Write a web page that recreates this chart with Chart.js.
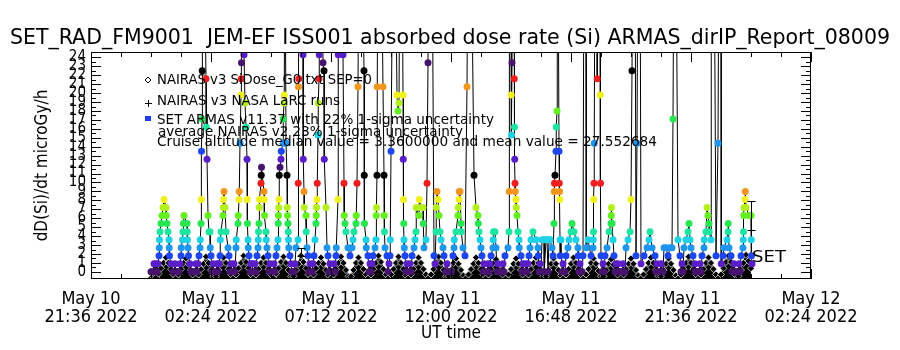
<!DOCTYPE html>
<html>
<head>
<meta charset="utf-8">
<script src="https://cdn.jsdelivr.net/npm/chart.js@4.4.0/dist/chart.umd.min.js"></script>
<style>
    html, body { margin: 0; padding: 0; background: #fff; }
    #grafico { display: block; }
</style>
</head>
<body>
<canvas id="grafico" width="900" height="350"></canvas>
<script>
// Etiquetas del eje de tiempo (horas UT contadas desde 2022-05-11 00:00)
const tickDia = ['May 10', 'May 11', 'May 11', 'May 11', 'May 11', 'May 11', 'May 12'];
const tickHora = ['21:36 2022', '02:24 2022', '07:12 2022', '12:00 2022', '16:48 2022', '21:36 2022', '02:24 2022'];

// NAIRAS v3: muestras cada 0.1 h desde las 00:00
const nairasInicio = 0.0;
const nairasPaso = 0.1;
const nairasDosis = [
    -0.7, -0.7, -0.6, -0.2, 0.4, 1.0, 1.6,
    1.0, 0.3, -0.3, -0.7, -0.3, 0.3, 1.0, 1.5,
    0.9, 0.2, -0.4, -0.7, -0.3, 0.3, 0.9, 1.7,
    1.0, 0.2, -0.5, -0.5, 0.2, 0.9, 1.6,
    1.0, 0.3, -0.3, -0.7, -0.3, 0.4, 1.0, 1.8,
    1.1, 0.4, -0.3, -0.7, -0.3, 0.3, 1.0, 1.6,
    1.0, 0.3, -0.3, -0.7, -0.2, 0.4, 1.1, 1.7,
    1.0, 0.2, -0.5, -0.5, 0.2, 0.9, 1.8,
    1.1, 0.4, -0.3, -0.7, -0.3, 0.4, 1.0, 1.6,
    0.9, 0.2, -0.4, -0.7, -0.3, 0.3, 1.0, 1.7,
    1.0, 0.2, -0.5, -0.5, 0.2, 1.0, 1.6,
    1.0, 0.3, -0.3, -0.7, -0.3, 0.3, 1.0, 1.8,
    1.1, 0.3, -0.3, -0.7, -0.3, 0.3, 1.0, 1.7,
    1.0, 0.3, -0.4, -0.7, -0.3, 0.3, 1.0, 1.6,
    1.0, 0.3, -0.3, -0.7, -0.3, 0.3, 1.0, 1.7,
    1.0, 0.2, -0.5, -0.5, 0.2, 1.0, 1.5,
    0.9, 0.2, -0.4, -0.7, -0.3, 0.3, 0.9, 1.6,
    1.0, 0.3, -0.3, -0.7, -0.3, 0.3, 1.0, 1.4,
    0.8, 0.2, -0.4, -0.7, -0.3, 0.3, 0.9, 1.5,
    0.9, 0.2, -0.4, -0.7, -0.3, 0.3, 1.0, 1.6,
    1.0, 0.2, -0.5, -0.5, 0.2, 0.9, 1.5,
    0.9, 0.2, -0.4, -0.7, -0.3, 0.3, 0.9, 1.6,
    1.0, 0.3, -0.3, -0.7, -0.3, 0.3, 1.0, 1.5,
    0.9, 0.1, -0.5, -0.5, 0.2, 0.9, 1.4,
    0.8, 0.2, -0.4, -0.7, -0.3, 0.3, 0.9, 1.5,
    0.9, 0.2, -0.4, -0.7, -0.3, 0.3, 1.0, 1.6,
    1.0, 0.2, -0.5, -0.5, 0.2, 0.9, 1.5,
    0.9, 0.2, -0.4, -0.7, -0.3, 0.3, 1.0, 1.7,
    1.0, 0.3, -0.3, -0.7, -0.3, 0.3, 1.0, 1.6,
    1.0, 0.3, -0.3, -0.7, -0.3, 0.4, 1.1, 1.8,
    1.1, 0.3, -0.4, -0.5, 0.2, 1.0, 1.9,
    1.2, 0.4
];

// SET ARMAS: tiempo (h UT desde 00:00 del 11 de mayo) y dosis, pasadas con picos
const armasTiempo = [
    0.00, 0.12, 0.24, 0.28, 0.32, 0.33, 0.34, 0.36, 0.40, 0.44, 0.48, 0.52, 0.60, 0.61, 0.64, 0.68, 0.72, 0.73, 0.74, 0.80, 0.88,
    1.04, 1.16, 1.20, 1.21, 1.26, 1.28, 1.30, 1.32, 1.44, 1.45, 1.46, 1.48, 1.50, 1.56, 1.64,
    1.72, 1.80, 1.92, 1.96, 1.97, 2.00, 2.01, 2.02, 2.04, 2.05, 2.06, 2.12, 2.20, 2.21, 2.24, 2.28, 2.32, 2.36, 2.37, 2.40, 2.48, 2.56,
    2.64, 2.76, 2.77, 2.80, 2.88, 2.89, 2.90, 2.92, 2.96, 3.00, 3.08, 3.12, 3.20, 3.28,
    3.32, 3.40, 3.41, 3.48, 3.49, 3.52, 3.53, 3.56, 3.60, 3.61, 3.62, 3.64, 3.72, 3.76, 3.80, 3.84, 3.85, 3.86, 3.88, 3.89, 3.92, 4.00, 4.08,
    4.16, 4.24, 4.28, 4.29, 4.30, 4.32, 4.33, 4.34, 4.40, 4.41, 4.42, 4.52, 4.53, 4.54, 4.60, 4.61, 4.64, 4.68, 4.76, 4.84,
    4.92, 5.00, 5.04, 5.08, 5.09, 5.10, 5.11, 5.12, 5.13, 5.16, 5.20, 5.21, 5.28, 5.29, 5.32, 5.33, 5.36, 5.40, 5.44, 5.45, 5.46, 5.48, 5.49, 5.50, 5.51, 5.56, 5.60, 5.68,
    5.76, 5.80, 5.88, 5.89, 5.90, 5.91, 5.92, 6.00, 6.08, 6.09, 6.12, 6.13, 6.20, 6.21, 6.24, 6.28, 6.36, 6.44,
    6.48, 6.52, 6.56, 6.60, 6.61, 6.62, 6.64, 6.65, 6.68, 6.69, 6.72, 6.73, 6.76, 6.84, 6.88, 6.92, 6.93, 7.00, 7.04, 7.08, 7.16, 7.24,
    7.32, 7.40, 7.41, 7.48, 7.49, 7.52, 7.64, 7.68, 7.72, 7.73, 7.76, 7.80, 7.88, 7.96,
    8.04, 8.08, 8.12, 8.20, 8.21, 8.24, 8.28, 8.32, 8.44, 8.52, 8.53, 8.54, 8.60, 8.61, 8.68, 8.76,
    8.88, 8.96, 9.00, 9.01, 9.02, 9.04, 9.05, 9.08, 9.20, 9.28, 9.32, 9.33, 9.34, 9.36, 9.44, 9.52,
    9.56, 9.57, 9.60, 9.68, 9.76, 9.84, 9.88, 9.92, 9.96, 10.04, 10.08, 10.09, 10.10, 10.11, 10.12, 10.13, 10.16, 10.24, 10.28,
    10.36, 10.44, 10.52, 10.56, 10.60, 10.61, 10.72, 10.73, 10.80, 10.88, 10.89, 10.92, 11.00, 11.04, 11.08, 11.12, 11.24, 11.32,
    11.36, 11.40, 11.41, 11.44, 11.48, 11.52, 11.56, 11.60, 11.68, 11.72, 11.84, 11.96, 12.08, 12.12, 12.13, 12.20, 12.28, 12.29, 12.32, 12.33, 12.36, 12.40, 12.41, 12.48, 12.56, 12.64, 12.68, 12.80,
    12.92, 13.00, 13.08, 13.09, 13.12, 13.16, 13.20, 13.24, 13.32, 13.40,
    13.48, 13.60, 13.68, 13.69, 13.70, 13.76, 13.80, 13.88, 14.00,
    14.08, 14.16, 14.28, 14.32, 14.33, 14.34, 14.40, 14.41, 14.42, 14.44, 14.48, 14.52, 14.53, 14.54, 14.55, 14.56, 14.57, 14.60, 14.61, 14.64, 14.68, 14.72, 14.73, 14.80, 14.88,
    15.00, 15.12, 15.16, 15.20, 15.28, 15.40, 15.48, 15.49, 15.56, 15.64, 15.72, 15.73, 15.80, 15.84, 15.88, 15.92, 15.96, 16.04, 16.08,
    16.12, 16.13, 16.14, 16.16, 16.20, 16.21, 16.24, 16.25, 16.28, 16.32, 16.33, 16.34, 16.35, 16.36, 16.37, 16.40, 16.48,
    16.60, 16.68, 16.72, 16.80, 16.84, 16.92, 17.00, 17.08, 17.09, 17.16,
    17.28, 17.32, 17.40, 17.41, 17.48, 17.60, 17.68, 17.69, 17.70, 17.71, 17.72, 17.73, 17.76, 17.84, 17.85, 17.88, 17.96, 17.97, 17.98, 18.00, 18.08,
    18.16, 18.24, 18.32, 18.40, 18.41, 18.42, 18.44, 18.48, 18.52, 18.60, 18.76,
    18.88, 19.00, 19.08, 19.16, 19.20, 19.24, 19.28, 19.36, 19.40, 19.44, 19.48, 19.56, 19.60,
    19.72, 19.84, 19.92, 19.96, 20.04, 20.16, 20.24, 20.32,
    20.40, 20.52, 20.60, 20.68, 20.76, 20.84, 20.88, 20.92, 21.00, 21.08, 21.16,
    21.32, 21.40, 21.48, 21.52, 21.56, 21.60, 21.68, 21.76, 21.88,
    21.96, 22.04, 22.12, 22.13, 22.20, 22.24, 22.28, 22.32, 22.33, 22.40, 22.41, 22.52, 22.60, 22.68, 22.72, 22.80, 22.81,
    22.88, 22.92, 23.04, 23.08, 23.09, 23.12, 23.20, 23.32, 23.44,
    23.52, 23.60, 23.68, 23.69, 23.70, 23.71, 23.72, 23.76, 23.77, 23.80, 23.92, 24.00, 24.01, 24.02, 24.04
];
const armasDosis = [
    0, 0.9, 0, 0.9, 1.8, 2.7, 3.6, 4.5, 5.4, 6.3, 7.2, 8.1, 7.2, 6.3, 5.4, 4.5, 3.6, 2.7, 1.8, 0.9, 0,
    0, 0.9, 1.8, 2.7, 3.6, 4.5, 5.4, 6.3, 5.4, 4.5, 3.6, 2.7, 1.8, 0.9, 0,
    0, 0.9, 1.8, 2.7, 3.6, 5.4, 8.1, 13.5, 17.1, 22.5, 40, 40, 21.6, 16.2, 12.6, 6.3, 4.5, 4.5, 2.7, 1.8, 0.9, 0,
    0.9, 1.8, 3.6, 4.5, 6.3, 7.2, 8.1, 9, 7.2, 4.5, 2.7, 1.8, 0.9, 0,
    0.9, 2.7, 3.6, 5.4, 6.3, 8.1, 9, 14.4, 19.8, 21.6, 23.4, 40, 24.3, 18.9, 16.2, 12.6, 8.1, 5.4, 3.6, 2.7, 1.8, 0.9, 0,
    0.9, 1.8, 2.7, 3.6, 4.5, 5.4, 7.2, 8.1, 9.9, 10.8, 11.7, 9, 8.1, 6.3, 4.5, 3.6, 2.7, 1.8, 0.9, 0,
    0.9, 1.8, 2.7, 3.6, 5.4, 6.3, 7.2, 8.1, 10.8, 11.7, 12.6, 13.5, 14.4, 17.1, 18.9, 19.8, 40, 14.4, 10.8, 7.2, 6.3, 5.4, 4.5, 3.6, 2.7, 1.8, 0.9, 0,
    0.9, 2.7, 3.6, 9.9, 20.7, 21.6, 40, 40, 24.3, 12.6, 9, 7.2, 6.3, 4.5, 2.7, 1.8, 0.9, 0,
    0.9, 1.8, 3.6, 5.4, 6.3, 7.2, 8.1, 9.9, 15.3, 18.9, 21.6, 24.3, 40, 40, 23.4, 22.5, 12.6, 7.2, 2.7, 1.8, 0.9, 0,
    0.9, 1.8, 2.7, 8.1, 24.3, 40, 40, 24.3, 9.9, 6.3, 5.4, 4.5, 2.7, 1.8,
    2.7, 3.6, 4.5, 5.4, 6.3, 9.9, 20.7, 40, 40, 22.5, 10.8, 5.4, 3.6, 2.7, 1.8, 0.9,
    1.8, 2.7, 3.6, 6.3, 7.2, 10.8, 20.7, 40, 40, 20.7, 10.8, 6.3, 4.5, 2.7, 1.8, 0.9,
    1.8, 3.6, 13.5, 40, 40, 19.8, 18, 18.9, 40, 40, 19.8, 12.6, 8.1, 5.4, 3.6, 2.7, 1.8, 0.9, 0,
    0.9, 1.8, 2.7, 3.6, 4.5, 7.2, 6.3, 8.1, 7.2, 7.2, 5.4, 2.7, 3.6, 9.9, 23.4, 40, 40, 1.8,
    0.9, 4.5, 7.2, 9, 8.1, 6.3, 4.5, 3.6, 2.7, 1.8, 0.9, 0, 1.8, 2.7, 3.6, 4.5, 6.3, 7.2, 8.1, 9, 9, 5.4, 4.5, 2.7, 1.8, 20.7, 40, 40,
    10.8, 7.2, 6.3, 5.4, 4.5, 3.6, 2.7, 1.8, 0.9, 0,
    0.9, 1.8, 2.7, 3.6, 4.5, 4.5, 2.7, 0.9, 0,
    0.9, 1.8, 2.7, 4.5, 9, 40, 40, 19.8, 15.3, 23.4, 40, 40, 21.6, 16.2, 12.6, 9.9, 9, 8.1, 7.2, 6.3, 4.5, 3.6, 2.7, 1.8, 0.9,
    0.9, 1.8, 2.7, 3.6, 4.5, 3.6, 2.7, 1.8, 0.9, 3.6, 3.6, 0, 3.6, 3.6, 0, 3.6, 3.6, 2.7, 1.8,
    5.4, 9, 9.9, 10.8, 13.5, 16.2, 18, 40, 40, 13.5, 9.9, 9, 8.1, 3.6, 1.8, 3.6, 0.9,
    1.8, 2.7, 3.6, 4.5, 5.4, 4.5, 3.6, 2.7, 1.8, 0.9,
    1.8, 40, 40, 2.7, 3.6, 1.8, 2.7, 3.6, 4.5, 8.1, 9.9, 14.4, 40, 40, 21.6, 40, 40, 19.8, 9.9, 1.8, 0.9,
    1.8, 2.7, 4.5, 5.4, 6.3, 7.2, 5.4, 3.6, 1.8, 0.9, 0,
    0.9, 2.7, 3.6, 4.5, 8.1, 22.5, 40, 40, 1.8, 14.4, 40, 40, 0.9,
    1.8, 2.7, 3.6, 4.5, 2.7, 1.8, 0.9, 0,
    0.9, 2.7, 2.7, 1.8, 2.7, 2.7, 17.1, 40, 40, 3.6, 1.8,
    2.7, 3.6, 4.5, 5.4, 3.6, 2.7, 1.8, 0.9, 0,
    0.9, 1.8, 2.7, 3.6, 4.5, 7.2, 6.3, 5.4, 4.5, 3.6, 40, 40, 1.8, 14.4, 40, 40, 0.9,
    1.8, 2.7, 3.6, 4.5, 5.4, 2.7, 1.8, 0.9, 0,
    0.9, 1.8, 2.7, 3.6, 4.5, 6.3, 7.2, 8.1, 9, 7.2, 6.3, 6.3, 3.6, 1.8, 0.9
];

// SET ARMAS: lecturas de fondo entre pasadas
const armasFondoTiempo = [
    0.04, 0.08, 0.16, 0.20, 0.92, 0.96, 1.00, 1.08, 1.12, 1.60, 1.68, 1.76, 1.84, 1.88,
    2.44, 2.52, 2.60, 2.68, 2.72, 3.16, 3.24, 3.36, 3.96, 4.04, 4.12, 4.20,
    4.72, 4.80, 4.88, 4.96, 5.64, 5.72, 6.32, 6.40, 7.12, 7.20, 7.28, 7.36,
    8.72, 8.80, 8.84, 9.48, 10.20, 10.32, 10.40, 11.78, 11.90, 12.02,
    13.28, 13.36, 13.44, 13.52, 13.56, 13.84, 13.94, 14.04, 14.12,
    14.84, 14.92, 14.96, 15.04, 15.08, 15.52, 15.60, 16.44, 16.52, 16.56,
    17.12, 17.20, 17.24, 18.04, 18.12, 18.56, 18.64, 18.68, 18.72, 18.80, 18.84, 18.92, 18.96,
    20.20, 20.28, 20.36, 20.44, 20.48, 21.20, 21.24, 21.28,
    21.72, 21.80, 21.84, 21.92, 22.00, 23.24, 23.28, 23.36, 23.40, 23.48, 23.56
];
const armasFondoDosis = [
    0, 0, 0, 0.9, 0, 0.9, 0, 0, 0, 0, 0, 0, 0, 0.9,
    0, 0, 0, 0, 0.9, 0, 0, 0, 0, 0.9, 0, 0,
    0, 0, 0, 0, 0, 0, 0, 0, 0, 0, 0, 0,
    0, 0, 0.9, 0, 0, 0, 0, 0, 0, 0,
    0, 0, 0, 0, 0.9, 0, 0, 0, 0,
    0, 0, 0, 0, 0.9, 0, 0, 0, 0, 0,
    0, 0, 0, 0, 0, 0, 0, 0.9, 0, 0, 0, 0, 0,
    0, 0, 0, 0, 0, 0, 0.9, 0,
    0, 0, 0, 0, 0, 0, 0, 0, 0, 0, 0
];

// Barras de incertidumbre
const errTiempo = [6.0, 24.0];
const errBajo = [1.8, 4.7];
const errAlto = [2.7, 7.9];

// Paleta ciclica por nivel de dosis (13 colores)
const paleta = ['#46146e', '#5a1ec8', '#1e46f0', '#1e96f0', '#1ed2e6', '#1ee6a0', '#28e650',
    '#64f01e', '#b4f01e', '#f0f01e', '#f0961e', '#f01e1e', '#000000'];
const pasoNivel = 0.9;

const fuente = "'DejaVu Sans Condensed', 'Liberation Sans Narrow', sans-serif";

function colorNivel(v) {
    const n = Math.round(v / pasoNivel);
    return paleta[((n % 13) + 13) % 13];
}

const puntosNairas = nairasDosis.map((d, i) => ({ x: nairasInicio + i * nairasPaso, y: d }));
const puntosArmas = armasTiempo.map((t, i) => ({ x: t, y: armasDosis[i] }))
    .concat(armasFondoTiempo.map((t, i) => ({ x: t, y: armasFondoDosis[i] })))
    .sort((p, q) => p.x - q.x);

// Texto estirado o comprimido a un ancho dado
function textoAjustado(ctx, texto, x, y, ancho, tam) {
    ctx.font = tam + 'px ' + fuente;
    const w = ctx.measureText(texto).width;
    ctx.save();
    ctx.translate(x, y);
    ctx.scale(ancho / w, 1);
    ctx.fillText(texto, 0, 0);
    ctx.restore();
}

// Marco con marcas hacia dentro, leyenda y anotaciones
const marco = {
    id: 'marco',
    afterDraw(chart) {
        const { ctx, chartArea: a, scales: { x, y } } = chart;
        ctx.save();
        ctx.strokeStyle = '#000';
        ctx.fillStyle = '#000';
        ctx.lineWidth = 1;
        ctx.strokeRect(a.left + 0.5, a.top + 0.5, a.right - a.left - 1, a.bottom - a.top - 1);

        ctx.beginPath();
        // eje x: 4 divisiones menores por cada 4.8 h
        for (let k = 0; k <= 24; k++) {
            const px = Math.round(x.getPixelForValue(x.min + k * 1.2)) + 0.5;
            const l = k % 4 === 0 ? 10 : 5;
            ctx.moveTo(px, a.bottom); ctx.lineTo(px, a.bottom - l);
            ctx.moveTo(px, a.top); ctx.lineTo(px, a.top + l);
        }
        // eje y: marcas cada 0.5
        for (let v = 0; v <= 24; v += 0.5) {
            const py = Math.round(y.getPixelForValue(v)) + 0.5;
            const l = v % 1 === 0 ? 10 : 5;
            ctx.moveTo(a.left, py); ctx.lineTo(a.left + l, py);
            ctx.moveTo(a.right, py); ctx.lineTo(a.right - l, py);
        }
        ctx.stroke();

        // barras de error
        ctx.beginPath();
        errTiempo.forEach((t, i) => {
            const px = Math.round(x.getPixelForValue(t)) + 0.5;
            const y1 = Math.round(y.getPixelForValue(errBajo[i])) + 0.5;
            const y2 = Math.round(y.getPixelForValue(errAlto[i])) + 0.5;
            ctx.moveTo(px, y1); ctx.lineTo(px, y2);
            ctx.moveTo(px - 4, y1); ctx.lineTo(px + 4, y1);
            ctx.moveTo(px - 4, y2); ctx.lineTo(px + 4, y2);
        });
        ctx.stroke();

        // titulo
        ctx.textBaseline = 'middle';
        ctx.textAlign = 'left';
        textoAjustado(ctx, 'SET_RAD_FM9001  JEM-EF ISS001 absorbed dose rate (Si) ARMAS_dirIP_Report_08009', 10, 38, 880, 22);

        // leyenda
        const lineas = [
            ['NAIRAS v3 SiDose_G0.txt SEP=0', 157, 80, 215],
            ['NAIRAS v3 NASA LaRC runs', 157, 101, 183],
            ['SET ARMAS v11.37 with 22% 1-sigma uncertainty', 157, 120, 337],
            ['average NAIRAS v2 23% 1-sigma uncertainty', 158, 132, 305],
            ['Cruise altitude median value = 3.3600000 and mean value = 27.552684', 157, 142, 500]
        ];
        lineas.forEach(([t, lx, ly, w]) => textoAjustado(ctx, t, lx, ly, w, 14));

        // simbolos de la leyenda
        ctx.beginPath();
        ctx.moveTo(148, 77); ctx.lineTo(151, 80); ctx.lineTo(148, 83); ctx.lineTo(145, 80); ctx.closePath();
        ctx.moveTo(148.5, 100); ctx.lineTo(148.5, 107);
        ctx.moveTo(145, 103.5); ctx.lineTo(152, 103.5);
        ctx.stroke();
        ctx.fillStyle = '#1e3cf0';
        ctx.fillRect(145, 116, 6, 5);

        ctx.fillStyle = '#000';
        textoAjustado(ctx, 'SET', 752, 258, 34, 15);
        ctx.restore();
    }
};

const ctx = document.getElementById('grafico').getContext('2d');
const grafico = new Chart(ctx, {
    type: 'line',
    data: {
        datasets: [
            {
                label: 'NAIRAS v3 SiDose_G0.txt SEP=0',
                data: puntosNairas,
                borderColor: '#000',
                backgroundColor: '#000',
                fill: 'start',
                borderWidth: 1.5,
                pointStyle: 'rectRot',
                pointRadius: 3.5,
                pointBorderColor: '#fff',
                pointBackgroundColor: '#000',
                pointBorderWidth: 0.7,
                order: 1
            },
            {
                label: 'SET ARMAS',
                data: puntosArmas,
                borderColor: '#000',
                borderWidth: 1,
                pointStyle: 'circle',
                pointRadius: 3.5,
                pointBorderWidth: 0,
                pointBackgroundColor: c => colorNivel(c.raw ? c.raw.y : 0),
                order: 0
            }
        ]
    },
    options: {
        responsive: false,
        animation: false,
        layout: { padding: { top: 52, right: 89, left: 0, bottom: 0 } },
        plugins: {
            legend: { display: false },
            tooltip: { enabled: false }
        },
        scales: {
            x: {
                type: 'linear',
                min: -2.4,
                max: 26.4,
                grid: { display: false, drawTicks: false },
                border: { display: false },
                ticks: {
                    stepSize: 4.8,
                    autoSkip: false,
                    maxRotation: 0,
                    padding: 11,
                    color: '#000',
                    font: { family: fuente, size: 18, lineHeight: 1.0 },
                    callback: v => {
                        const i = Math.round((v + 2.4) / 4.8);
                        return [tickDia[i], tickHora[i]];
                    }
                },
                title: {
                    display: true,
                    text: 'UT time',
                    color: '#000',
                    font: { family: fuente, size: 17 },
                    padding: { top: 0, bottom: 6 }
                },
                afterFit: s => { s.height = 71; }
            },
            y: {
                type: 'linear',
                min: -0.8,
                max: 24.6,
                grid: { display: false, drawTicks: false },
                border: { display: false },
                ticks: {
                    stepSize: 1,
                    autoSkip: false,
                    includeBounds: false,
                    padding: 5,
                    color: '#000',
                    font: { family: fuente, size: 15, lineHeight: 1.0 },
                    callback: v => (v >= 0 && v <= 24 && Number.isInteger(v)) ? String(v) : ''
                },
                title: {
                    display: true,
                    text: 'dD(Si)/dt microGy/h',
                    color: '#000',
                    font: { family: fuente, size: 17 },
                    padding: { top: 32, bottom: 0 }
                },
                afterFit: s => { s.width = 91; }
            }
        }
    },
    plugins: [marco]
});
</script>
</body>
</html>
